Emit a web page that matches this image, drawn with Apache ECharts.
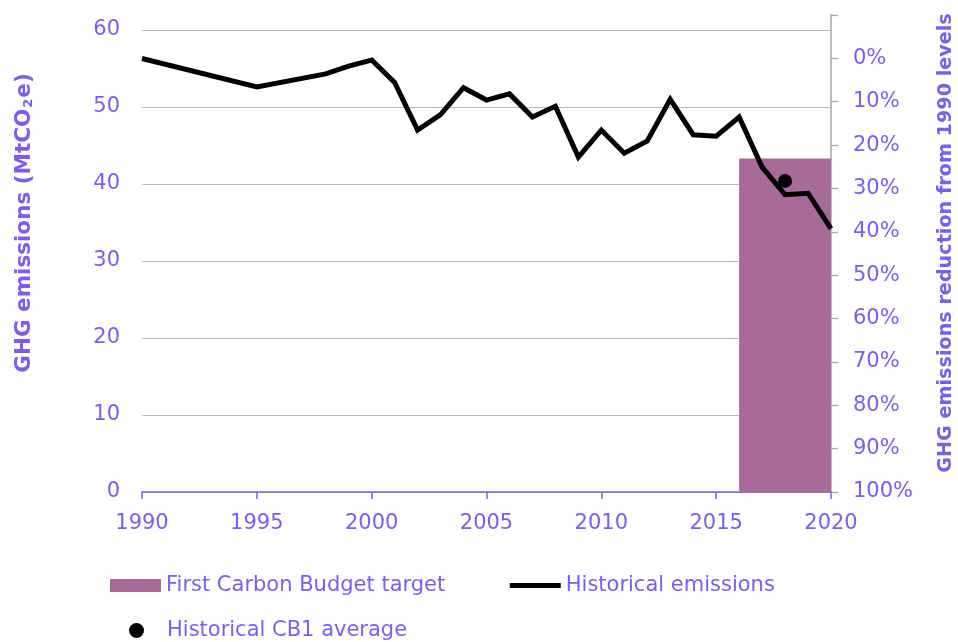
<!DOCTYPE html>
<html>
<head>
<meta charset="utf-8">
<script src="https://cdn.jsdelivr.net/npm/echarts@6/dist/echarts.min.js"></script>
<style>
html,body{margin:0;padding:0;background:#fff;}
#chart{width:958px;height:642px;}
</style>
</head>
<body>
<div id="chart"></div>
<script>
// ---- data ----
var years = [1990, 1995, 1998, 1999, 2000, 2001, 2002, 2003, 2004, 2005, 2006, 2007, 2008, 2009, 2010, 2011, 2012, 2013, 2014, 2015, 2016, 2017, 2018, 2019, 2020];
var emissions = [56.3, 52.6, 54.3, 55.3, 56.1, 53.2, 47.0, 49.0, 52.5, 50.9, 51.7, 48.7, 50.1, 43.5, 47.0, 44.0, 45.6, 51.0, 46.4, 46.2, 48.7, 42.2, 38.6, 38.8, 34.2];
var budgetStart = 2016, budgetEnd = 2020, budgetValue = 43.3;
var cb1Year = 2018, cb1Value = 40.4;
var leftTicks = [0, 10, 20, 30, 40, 50, 60];
var rightTicks = [0, 10, 20, 30, 40, 50, 60, 70, 80, 90, 100];
var xTicks = [1990, 1995, 2000, 2005, 2010, 2015, 2020];

var PURPLE = '#7b5cf6';
var FONT = 'DejaVu Sans';

var lineData = years.map(function (y, i) { return [y, emissions[i]]; });

var chart = echarts.init(document.getElementById('chart'), null, {renderer: 'canvas'});
chart.setOption({
  animation: false,
  backgroundColor: '#fff',
  textStyle: {fontFamily: FONT},
  grid: [
    {left: 142, right: 127, top: 30, bottom: 150},
    {left: 142, right: 127, top: 15, bottom: 150}
  ],
  xAxis: [
    {
      type: 'value', gridIndex: 0, min: xTicks[0], max: xTicks[xTicks.length - 1], interval: 5,
      axisLine: {show: true, lineStyle: {color: PURPLE, width: 1.5}},
      axisTick: {show: true, inside: false, length: 7, lineStyle: {color: PURPLE, width: 1.5}},
      axisLabel: {color: PURPLE, fontSize: 21, fontFamily: FONT, margin: 21, formatter: function (v) { return String(v); }},
      splitLine: {show: false}
    },
    {type: 'value', gridIndex: 1, min: 1990, max: 2020, show: false}
  ],
  yAxis: [
    {
      type: 'value', gridIndex: 0, min: leftTicks[0], max: leftTicks[leftTicks.length - 1], interval: 10,
      axisLine: {show: false}, axisTick: {show: false},
      axisLabel: {color: PURPLE, fontSize: 21, fontFamily: FONT, margin: 22},
      splitLine: {show: true, lineStyle: {color: '#b8b8b8', width: 1.2}}
    },
    {
      type: 'value', gridIndex: 1, position: 'right', inverse: true, min: -10, max: rightTicks[rightTicks.length - 1], interval: 10,
      axisLine: {show: true, lineStyle: {color: '#a6a6a6', width: 1.5}},
      axisTick: {show: true, inside: false, length: 7, lineStyle: {color: '#a6a6a6', width: 1.2}},
      axisLabel: {color: PURPLE, fontSize: 21, fontFamily: FONT, margin: 22, formatter: function (v) { return v < 0 ? '' : v + '%'; }},
      splitLine: {show: false}
    }
  ],
  legend: [
    {
      left: 110, top: 575, padding: 0, itemWidth: 51, itemHeight: 13, itemGap: 62,
      textStyle: {color: PURPLE, fontSize: 21, fontFamily: FONT},
      data: [
        {name: 'First Carbon Budget target', icon: 'rect'},
        {name: 'Historical emissions', itemStyle: {opacity: 0}, lineStyle: {width: 5, color: '#000'}}
      ]
    },
    {
      left: 129, top: 620, padding: 0, itemWidth: 51, itemHeight: 15, itemGap: 30,
      textStyle: {color: PURPLE, fontSize: 21, fontFamily: FONT},
      data: [{name: 'Historical CB1 average', icon: 'circle'}]
    }
  ],
  graphic: [
    {
      type: 'text', x: 24, y: 223, rotation: Math.PI / 2,
      style: {
        text: '{b|GHG emissions (MtCO}{s|2}{b|e)}',
        align: 'center', verticalAlign: 'middle',
        rich: {
          b: {fontSize: 21.5, fontWeight: 'bold', fill: PURPLE, fontFamily: FONT},
          s: {fontSize: 13, fontWeight: 'bold', fill: PURPLE, fontFamily: FONT, padding: [10, 1, 0, 1]}
        }
      }
    },
    {
      type: 'text', x: 946, y: 243, rotation: Math.PI / 2,
      style: {
        text: 'GHG emissions reduction from 1990 levels',
        align: 'center', verticalAlign: 'middle',
        fontSize: 19.2, fontWeight: 'bold', fill: PURPLE, fontFamily: FONT
      }
    }
  ],
  series: [
    {
      name: 'First Carbon Budget target', type: 'custom', xAxisIndex: 0, yAxisIndex: 0,
      itemStyle: {color: '#a86a96'},
      data: [[budgetStart, budgetEnd, budgetValue]],
      renderItem: function (params, api) {
        var p0 = api.coord([api.value(0), api.value(2)]);
        var p1 = api.coord([api.value(1), 0]);
        return {type: 'rect', shape: {x: p0[0], y: p0[1], width: p1[0] - p0[0], height: p1[1] - p0[1]}, style: {fill: '#a86a96'}};
      },
      z: 1
    },
    {
      name: 'Historical emissions', type: 'line', xAxisIndex: 0, yAxisIndex: 0,
      data: lineData, symbol: 'none', color: '#000',
      lineStyle: {color: '#000', width: 5, join: 'miter'},
      z: 3
    },
    {
      name: 'Historical CB1 average', type: 'scatter', xAxisIndex: 0, yAxisIndex: 0,
      data: [[cb1Year, cb1Value]], symbol: 'circle', symbolSize: 14,
      itemStyle: {color: '#000', opacity: 1},
      z: 4
    }
  ]
});
</script>
</body>
</html>
